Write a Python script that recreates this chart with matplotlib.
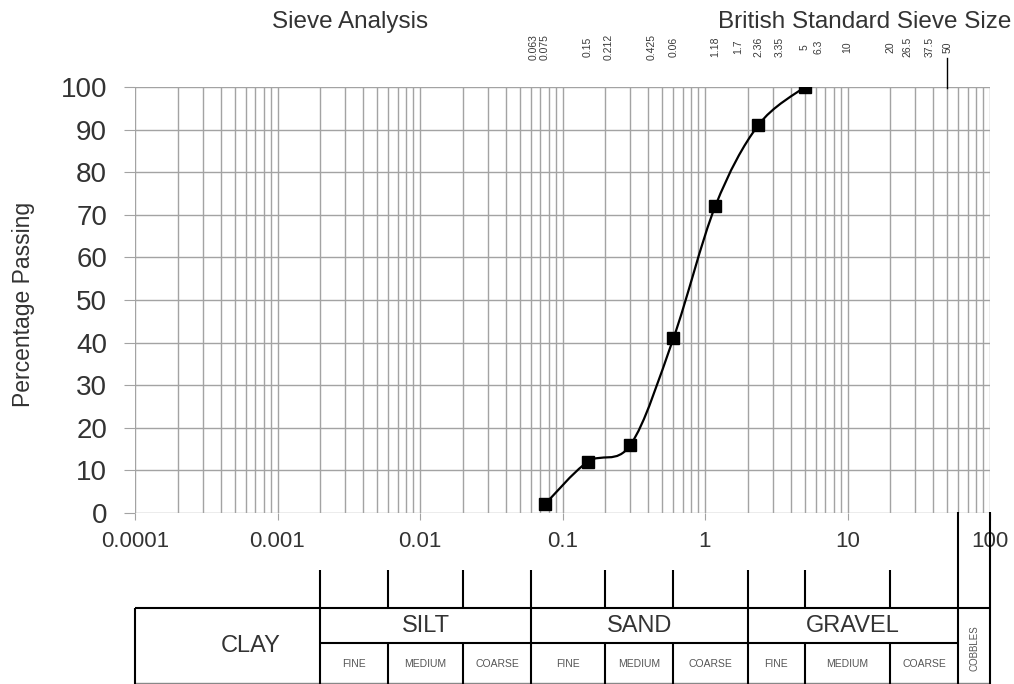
import numpy as np
import matplotlib
matplotlib.use("Agg")
import matplotlib.pyplot as plt
from matplotlib.path import Path
from matplotlib.patches import PathPatch
from matplotlib.ticker import LogLocator, FuncFormatter, NullFormatter
import matplotlib.transforms as mtransforms

plt.rcParams["font.family"] = ["Liberation Sans", "DejaVu Sans"]

# sieve results
sieve_mm = [0.075, 0.15, 0.3, 0.6, 1.18, 2.36, 5]
passing = [2, 12, 16, 41, 72, 91, 100]

# x axis decades
decades = [0.0001, 0.001, 0.01, 0.1, 1, 10, 100]

# BS sieve sizes printed along the top (text as in the original sheet)
top_sizes = [0.063, 0.075, 0.15, 0.212, 0.425, 0.6, 1.18, 1.7, 2.36, 3.35,
             5, 6.3, 10, 20, 26.5, 37.5, 50]
top_labels = ["0.063", "0.075", "0.15", "0.212", "0.425", "0.06", "1.18", "1.7",
              "2.36", "3.35", "5", "6.3", "10", "20", "26.5", "37.5", "50"]

# particle size classification limits (mm)
major_limits = [0.002, 0.06, 2]
minor_limits = [0.006, 0.02, 0.2, 0.6, 5, 20]
cobble_limit = 60
soil_names = ["SILT", "SAND", "GRAVEL"]
soil_ranges = [(0.002, 0.06), (0.06, 2), (2, 60)]
sub_names = ["FINE", "MEDIUM", "COARSE"]
sub_edges = [[0.002, 0.006, 0.02, 0.06],
             [0.06, 0.2, 0.6, 2],
             [2, 5, 20, 60]]

W, H = 1014, 684
TXT = "#333333"
GRID = "#a3a3a3"


def fx(px):
    return px / W


def fy(row):
    return 1 - row / H


def smooth_path(xs, ys):
    # catmull-rom style bezier, like a spreadsheet "smoothed line", in log-x space
    pts = np.column_stack([np.log10(xs), ys]).astype(float)
    ext = np.vstack([pts[0], pts, pts[-1]])
    verts = [pts[0]]
    codes = [Path.MOVETO]
    for i in range(len(pts) - 1):
        p0, p1, p2, p3 = ext[i], ext[i + 1], ext[i + 2], ext[i + 3]
        c1 = p1 + (p2 - p0) / 6
        c2 = p2 - (p3 - p1) / 6
        verts += [c1, c2, p2]
        codes += [Path.CURVE4] * 3
    verts = np.array(verts)
    verts[:, 0] = 10 ** verts[:, 0]
    return Path(verts, codes)


fig = plt.figure(figsize=(W / 100, H / 100), dpi=100)
ax = fig.add_axes([fx(135), fy(513), fx(990) - fx(135), fy(87) - fy(513)])
ax.set_xscale("log")
ax.set_xlim(decades[0], decades[-1])
ax.set_ylim(0, 100)
ax.set_yticks(range(0, 101, 10))
ax.set_xticks(decades)
ax.xaxis.set_minor_locator(LogLocator(base=10, subs=np.arange(2, 10), numticks=30))
ax.xaxis.set_major_formatter(FuncFormatter(lambda v, p: f"{v:g}"))
ax.xaxis.set_minor_formatter(NullFormatter())
ax.grid(True, which="both", axis="x", color=GRID, lw=1)
ax.grid(True, which="major", axis="y", color=GRID, lw=1)
ax.set_axisbelow(True)
for s in ax.spines.values():
    s.set_visible(False)
ax.tick_params(axis="y", length=8, color=GRID, pad=12, labelsize=20, labelcolor=TXT)
ax.tick_params(axis="x", which="major", length=5, color=GRID, pad=8,
               labelsize=16, labelcolor=TXT)
ax.tick_params(axis="x", which="minor", length=0)

ax.add_patch(PathPatch(smooth_path(sieve_mm, passing), fill=False,
                       lw=1.6, edgecolor="black", zorder=3))
ax.plot(sieve_mm, passing, ls="none", marker="s", ms=9, color="black", zorder=4)

trans = mtransforms.blended_transform_factory(ax.transData, ax.transAxes)
for v, lab in zip(top_sizes, top_labels):
    ax.text(v, 1.094, lab, transform=trans, rotation=90, ha="center", va="center",
            fontsize=7.5, color="#3a3a3a")
ax.plot([50, 50], [0.998, 1.068], transform=trans, color="black", lw=1, clip_on=False)

fig.text(fx(350), fy(22), "Sieve Analysis", ha="center", va="center",
         fontsize=17.5, color=TXT)
fig.text(fx(718), fy(22), "British Standard Sieve Size", ha="left", va="center",
         fontsize=17.5, color=TXT)
fig.text(fx(24), fy(304), "Percentage Passing", rotation=90, ha="center",
         va="center", fontsize=16.5, color=TXT)

# classification table below the axis, y in pixel rows
tab = fig.add_axes([fx(135), 0, fx(990) - fx(135), fy(512)], sharex=ax)
tab.set_ylim(H, 512)
tab.axis("off")
tab.patch.set_visible(False)
kw = dict(color="black", lw=1.5, clip_on=False)

tab.hlines(608, decades[0], decades[-1], **kw)
tab.hlines(643, major_limits[0], cobble_limit, **kw)
tab.hlines(683, decades[0], decades[-1], color="#888888", lw=1, clip_on=False)
tab.vlines(decades[0], 608, H, **kw)
tab.vlines([cobble_limit, decades[-1]], 512, H, **kw)
tab.vlines(major_limits, 570, H, **kw)
tab.vlines(minor_limits, 570, 608, **kw)
tab.vlines(minor_limits, 643, H, **kw)

tab.text(6.5e-4, 646, "CLAY", ha="center", va="center", fontsize=17, color=TXT)
for name, (lo, hi), edges in zip(soil_names, soil_ranges, sub_edges):
    tab.text(np.sqrt(lo * hi), 626, name, ha="center", va="center",
             fontsize=17, color=TXT)
    for sub, a, b in zip(sub_names, edges[:-1], edges[1:]):
        tab.text(np.sqrt(a * b), 664, sub, ha="center", va="center",
                 fontsize=7.5, color="#555555")
tab.text(np.sqrt(cobble_limit * decades[-1]), 648, "COBBLES", rotation=90,
         ha="center", va="center", fontsize=7, color="#555555")

fig.savefig("out.png", dpi=100)
